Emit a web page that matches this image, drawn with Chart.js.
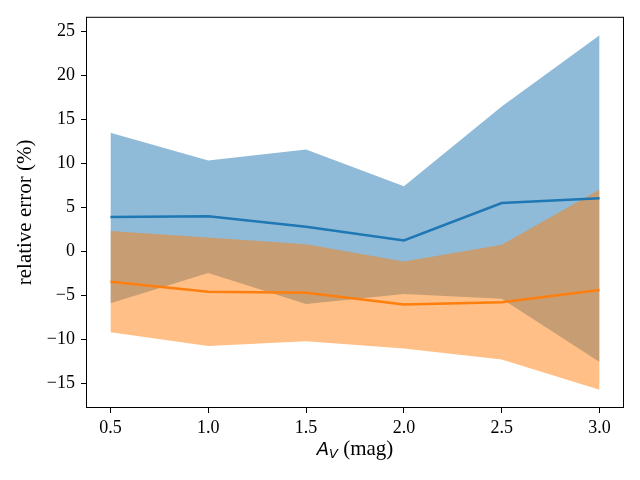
<!DOCTYPE html>
<html>
<head>
<meta charset="utf-8">
<script src="https://cdn.jsdelivr.net/npm/chart.js@4"></script>
<style>
  html, body { margin: 0; padding: 0; background: #fff; }
  #wrap { width: 640px; height: 480px; }
</style>
</head>
<body>
<div id="wrap"><canvas id="errChart" width="640" height="480"></canvas></div>
<script>
const av = [0.5, 1.0, 1.5, 2.0, 2.5, 3.0];
const blueMean = [3.9, 4.0, 2.8, 1.25, 5.5, 6.05];
const blueUpper = [13.5, 10.35, 11.6, 7.4, 16.5, 24.6];
const blueLower = [-5.9, -2.45, -6.0, -4.85, -5.4, -12.6];
const orangeMean = [-3.45, -4.6, -4.72, -6.05, -5.8, -4.4];
const orangeUpper = [2.33, 1.58, 0.8, -1.15, 0.75, 7.05];
const orangeLower = [-9.2, -10.77, -10.24, -11.07, -12.3, -15.75];
const xTicks = [0.5, 1.0, 1.5, 2.0, 2.5, 3.0];
const yTicks = [-15, -10, -5, 0, 5, 10, 15, 20, 25];

const SERIF = '"Liberation Serif", "DejaVu Serif", serif';
const toPts = arr => arr.map((v, i) => ({ x: av[i], y: v }));

// frame on all four sides + axis labels (mixed fonts on x label)
const framePlugin = {
    id: 'frame',
    afterDraw(chart) {
        const { ctx, chartArea: a } = chart;
        ctx.save();
        ctx.strokeStyle = '#000';
        ctx.lineWidth = 1;
        ctx.strokeRect(a.left + 0.5, a.top + 0.5, a.right - a.left - 1, a.bottom - a.top - 1);

        ctx.fillStyle = '#000';
        ctx.textBaseline = 'alphabetic';
        const cx = (a.left + a.right) / 2;
        const y = 455;
        const aPart = 'A';
        const vPart = 'V';
        const magPart = ' (mag)';
        const fA = 'italic 18px "DejaVu Sans", sans-serif';
        const fV = 'italic 13px "DejaVu Sans", sans-serif';
        const fM = '21px ' + SERIF;
        ctx.font = fA;
        const wA = ctx.measureText(aPart).width;
        ctx.font = fV;
        const wV = ctx.measureText(vPart).width;
        ctx.font = fM;
        const wM = ctx.measureText(magPart).width;
        const x0 = cx - (wA + wV + wM) / 2;
        ctx.textAlign = 'left';
        ctx.font = fA;
        ctx.fillText(aPart, x0, y);
        ctx.font = fV;
        ctx.fillText(vPart, x0 + wA, y + 3);
        ctx.font = fM;
        ctx.fillText(magPart, x0 + wA + wV, y);

        ctx.translate(31, (a.top + a.bottom) / 2);
        ctx.rotate(-Math.PI / 2);
        ctx.textAlign = 'center';
        ctx.font = '21px ' + SERIF;
        ctx.fillText('relative error (%)', 0, 0);
        ctx.restore();
    }
};

const ctx = document.getElementById('errChart').getContext('2d');
new Chart(ctx, {
    type: 'line',
    data: {
        datasets: [
            { data: toPts(blueMean), borderColor: '#1f77b4', borderWidth: 2.5, pointRadius: 0, fill: false, order: 0 },
            { data: toPts(orangeMean), borderColor: '#ff7f0e', borderWidth: 2.5, pointRadius: 0, fill: false, order: 1 },
            { data: toPts(orangeUpper), borderWidth: 0, pointRadius: 0, fill: '+1', backgroundColor: 'rgba(255,127,14,0.5)', order: 2 },
            { data: toPts(orangeLower), borderWidth: 0, pointRadius: 0, fill: false, order: 3 },
            { data: toPts(blueUpper), borderWidth: 0, pointRadius: 0, fill: '+1', backgroundColor: 'rgba(31,119,180,0.5)', order: 4 },
            { data: toPts(blueLower), borderWidth: 0, pointRadius: 0, fill: false, order: 5 }
        ]
    },
    options: {
        responsive: false,
        animation: false,
        events: [],
        layout: { padding: { top: 15, right: 16, bottom: 0, left: 0 } },
        plugins: {
            legend: { display: false },
            tooltip: { enabled: false },
            filler: { propagate: false }
        },
        elements: { line: { tension: 0 } },
        scales: {
            x: {
                type: 'linear',
                min: 0.375,
                max: 3.125,
                afterFit: s => { s.height = 72; },
                afterBuildTicks: s => { s.ticks = xTicks.map(v => ({ value: v })); },
                grid: { display: true, drawOnChartArea: false, drawTicks: true, tickLength: 5, color: '#000' },
                border: { display: false },
                ticks: {
                    color: '#000',
                    padding: 4,
                    font: { family: SERIF, size: 18 },
                    callback: v => v.toFixed(1)
                }
            },
            y: {
                type: 'linear',
                min: -17.83,
                max: 26.7,
                afterFit: s => { s.width = 86; },
                afterBuildTicks: s => { s.ticks = yTicks.map(v => ({ value: v })); },
                grid: { display: true, drawOnChartArea: false, drawTicks: true, tickLength: 5, color: '#000' },
                border: { display: false },
                ticks: {
                    color: '#000',
                    padding: 6,
                    font: { family: SERIF, size: 18 },
                    callback: v => (v < 0 ? '\u2212' + Math.abs(v) : String(v))
                }
            }
        }
    },
    plugins: [framePlugin]
});
</script>
</body>
</html>
